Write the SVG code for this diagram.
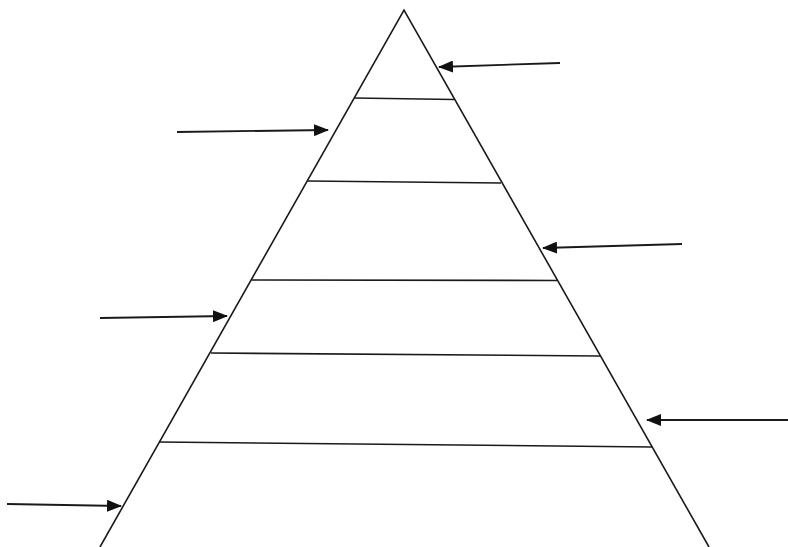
<svg xmlns="http://www.w3.org/2000/svg" width="788" height="547" viewBox="0 0 788 547">
<style>
.edge{stroke:#1a1a1a;stroke-width:1.6;fill:none;}
.arrow{stroke:#1a1a1a;stroke-width:1.8;fill:none;marker-end:url(#ah);}
</style>
<defs>
<marker id="ah" markerUnits="userSpaceOnUse" markerWidth="16" markerHeight="12" refX="14" refY="6" orient="auto">
<path d="M0,0 L15,6 L0,12 Z" fill="#111"/>
</marker>
</defs>
<rect width="788" height="547" fill="#fff"/>
<g id="pyramid">
<path class="edge" d="M100,547 L404,10 L709,547"/>
</g>
<g id="levels">
<line class="edge" x1="354.5" y1="98" x2="454.5" y2="99.5"/>
<line class="edge" x1="307.5" y1="181" x2="501" y2="183"/>
<line class="edge" x1="251.5" y1="280" x2="557" y2="280.5"/>
<line class="edge" x1="211" y1="353" x2="600" y2="356"/>
<line class="edge" x1="159.5" y1="442" x2="652.5" y2="447"/>
</g>
<g id="connectors">
<line class="arrow" x1="560" y1="63" x2="439" y2="67"/>
<line class="arrow" x1="177" y1="132" x2="328" y2="130"/>
<line class="arrow" x1="682" y1="244" x2="543" y2="248"/>
<line class="arrow" x1="100" y1="318" x2="227" y2="316"/>
<line class="arrow" x1="788" y1="420" x2="647" y2="420"/>
<line class="arrow" x1="7" y1="504" x2="121" y2="506"/>
</g>
</svg>
